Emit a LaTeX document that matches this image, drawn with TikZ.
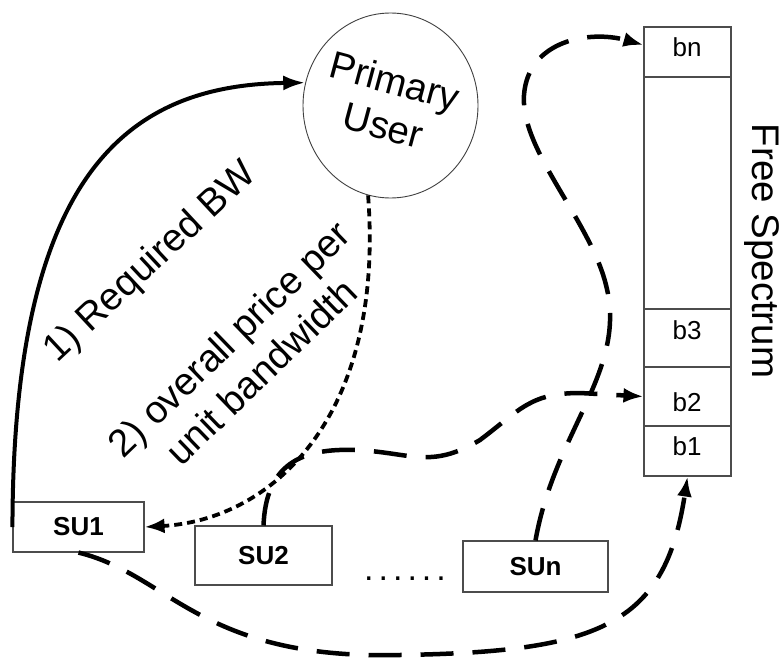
\documentclass[tikz,border=0pt]{standalone}
\usepackage{fontspec}
\setmainfont{Liberation Sans}
\usetikzlibrary{shapes.geometric,arrows.meta}
\tikzset{
  bigtext/.style={font=\fontsize{38.5}{46}\selectfont, inner sep=0pt},
  celltext/.style={font=\fontsize{26}{30}\selectfont, inner sep=0pt},
  subox/.style={draw=black!70, line width=1.1pt, rectangle, font=\bfseries\fontsize{26}{30}\selectfont, inner sep=0pt},
  cellbox/.style={draw=black!70, line width=1.1pt, rectangle, minimum width=87pt, inner sep=0pt},
  solidarrow/.style={line width=4pt, -{Latex[length=22pt,width=15pt]}},
  dottedarrow/.style={line width=3.8pt, dash pattern=on 8pt off 5pt, -{Latex[length=20pt,width=15pt]}},
  dashedarrow/.style={line width=4.5pt, dash pattern=on 33pt off 19pt, -{Latex[length=20pt,width=15pt]}},
}
\begin{document}
\begin{tikzpicture}[x=1pt,y=-1pt]
\useasboundingbox (0,0) rectangle (784,658);
\fill[white] (0,0) rectangle (784,658);

% Primary user
\node[ellipse, draw=black!75, line width=0.9pt, minimum width=175pt, minimum height=185pt, inner sep=0pt] (pu) at (390.5,105.5) {};
\node[bigtext, rotate=-15, align=center] (putext) at (389,103) {Primary\\User};

% spectrum column
\node[cellbox, minimum height=50pt] (bn) at (687.5,52) {};
\node[cellbox, minimum height=232pt] (bmid) at (687.5,193) {};
\node[cellbox, minimum height=58pt] (b3) at (687.5,338) {};
\node[cellbox, minimum height=59pt] (b2) at (687.5,396.5) {};
\node[cellbox, minimum height=50pt] (b1) at (687.5,451) {};
\node[celltext] (tbn) at (687,47) {bn};
\node[celltext] (tb3) at (687,330) {b3};
\node[celltext] (tb2) at (687,402) {b2};
\node[celltext] (tb1) at (687,446) {b1};
\node[bigtext, rotate=-90] (fs) at (762,251) {Free Spectrum};

% secondary users
\node[subox, minimum width=131pt, minimum height=50pt] (su1) at (78.5,527) {SU1};
\node[subox, minimum width=137pt, minimum height=59pt] (su2) at (263.5,555.5) {SU2};
\node[subox, minimum width=145pt, minimum height=51pt] (sun) at (535.5,566.5) {SUn};
\node[anchor=base, font=\fontsize{34}{40}\selectfont, inner sep=0pt] (dots) at (405,580) {.\kern5pt.\kern5pt.\kern5pt.\kern5pt.\kern5pt.};

% labels
\node[bigtext, rotate=43] (l1) at (151,263) {1) Required BW};
\node[bigtext, rotate=44, align=center] (l2) at (245,355) {2) overall price per\\unit bandwidth};

% connectors
\draw[solidarrow] (su1.west) .. controls (13,170) and (130,85) .. (pu.165);
\draw[dottedarrow] (pu.256) .. controls (385,420) and (270,520) .. (su1.east);
\draw[dashedarrow] (su2.north) .. controls (266,465) and (300,448) .. (355,450)
   .. controls (410,452) and (430,470) .. (480,440)
   .. controls (520,410) and (530,393) .. (580,393) -- (b2.west);
\draw[dashedarrow] (sun.north) .. controls (555,430) and (628,370) .. (606,285)
   .. controls (590,220) and (520,150) .. (524,95)
   .. controls (528,40) and (590,30) .. ([yshift=7pt]bn.west);
\draw[dashedarrow] (su1.south) .. controls (170,575) and (200,660) .. (400,655)
   .. controls (600,652) and (665,625) .. (b1.south);
\end{tikzpicture}
\end{document}
